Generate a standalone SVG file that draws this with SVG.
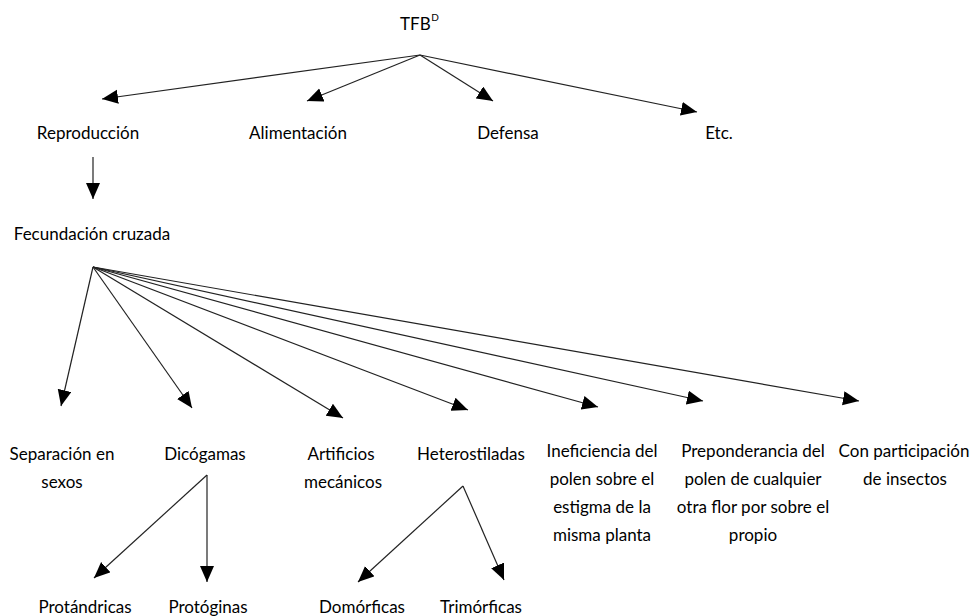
<svg xmlns="http://www.w3.org/2000/svg" width="975" height="616" viewBox="0 0 975 616">
<style>
text{font-family:Lato,"Open Sans","Liberation Sans",sans-serif;font-size:17px;fill:#000;text-anchor:middle}
.l{text-anchor:start}
.sup{font-size:10px}
line{stroke:#222;stroke-width:1.2}
</style>
<defs>
<marker id="ah" markerUnits="userSpaceOnUse" markerWidth="17" markerHeight="15" refX="16" refY="7" orient="auto">
<path d="M0,0 L16,7 L0,14 z" fill="#000"/>
</marker>
</defs>
<rect width="975" height="616" fill="#fff"/>
<g id="connectors">
<line x1="420" y1="55" x2="102" y2="99" marker-end="url(#ah)"/>
<line x1="420" y1="55" x2="307" y2="101" marker-end="url(#ah)"/>
<line x1="420" y1="55" x2="493" y2="101" marker-end="url(#ah)"/>
<line x1="420" y1="55" x2="697" y2="112" marker-end="url(#ah)"/>
<line x1="93" y1="157" x2="93" y2="199" marker-end="url(#ah)"/>
<line x1="93" y1="267" x2="61" y2="406" marker-end="url(#ah)"/>
<line x1="93" y1="267" x2="192" y2="408" marker-end="url(#ah)"/>
<line x1="93" y1="267" x2="343" y2="418" marker-end="url(#ah)"/>
<line x1="93" y1="267" x2="468" y2="410" marker-end="url(#ah)"/>
<line x1="93" y1="267" x2="598" y2="407" marker-end="url(#ah)"/>
<line x1="93" y1="267" x2="703" y2="401" marker-end="url(#ah)"/>
<line x1="93" y1="267" x2="859" y2="401" marker-end="url(#ah)"/>
<line x1="207" y1="475" x2="94" y2="578" marker-end="url(#ah)"/>
<line x1="207" y1="475" x2="207" y2="582" marker-end="url(#ah)"/>
<line x1="463" y1="486" x2="358" y2="582" marker-end="url(#ah)"/>
<line x1="463" y1="486" x2="504" y2="580" marker-end="url(#ah)"/>
</g>
<g id="tfb"><text class="l" x="400" y="30">TFB<tspan class="sup" dx="0.5" dy="-9">D</tspan></text></g>
<g id="reproduccion"><text x="88" y="139">Reproducción</text></g>
<g id="alimentacion"><text x="298" y="139">Alimentación</text></g>
<g id="defensa"><text x="508" y="139">Defensa</text></g>
<g id="etc"><text x="719" y="139">Etc.</text></g>
<g id="fecundacion"><text x="92" y="240">Fecundación cruzada</text></g>
<g id="separacion"><text x="62" y="460">Separación en</text><text x="62" y="488">sexos</text></g>
<g id="dicogamas"><text x="205" y="460">Dicógamas</text></g>
<g id="artificios"><text x="341" y="460">Artificios</text><text x="343" y="488">mecánicos</text></g>
<g id="heterostiladas"><text x="471" y="460">Heterostiladas</text></g>
<g id="ineficiencia"><text x="602" y="457">Ineficiencia del</text><text x="602" y="485">polen sobre el</text><text x="602" y="513">estigma de la</text><text x="602" y="541">misma planta</text></g>
<g id="preponderancia"><text x="753" y="457">Preponderancia del</text><text x="753" y="485">polen de cualquier</text><text x="753" y="513">otra flor por sobre el</text><text x="753" y="541">propio</text></g>
<g id="insectos"><text x="904" y="457">Con participación</text><text x="905" y="485">de insectos</text></g>
<g id="protandricas"><text x="85" y="613">Protándricas</text></g>
<g id="protoginas"><text x="208" y="613">Protóginas</text></g>
<g id="domorficas"><text x="362" y="613">Domórficas</text></g>
<g id="trimorficas"><text x="481" y="613">Trimórficas</text></g>
</svg>
